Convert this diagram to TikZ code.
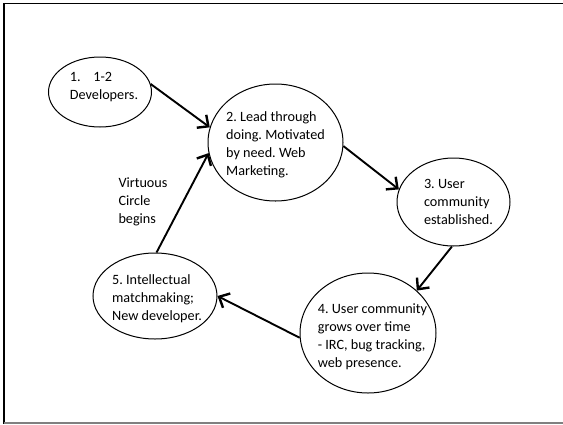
\documentclass[tikz,border=0pt]{standalone}
\usepackage{fontspec}
\setmainfont{Carlito}
\frenchspacing
\usetikzlibrary{shapes.geometric,arrows.meta}
\begin{document}
\begin{tikzpicture}[x=1pt,y=-1pt,
  bubble/.style={draw=black,line width=1pt,ellipse,inner sep=0pt},
  txt/.style={align=left,inner sep=0pt,font=\fontsize{14.2}{18}\selectfont},
  flow/.style={line width=1.9pt,-{Straight Barb[length=8.5pt,width=16pt,line width=2.4pt]}}]
\useasboundingbox (0,0) rectangle (563,424);
\fill[white] (0,0) rectangle (563,424);
% frame
\draw[line width=1.3pt] (3,3.6) -- (563,3.6);
\draw[line width=2.2pt] (4,3) -- (4,424);
\draw[line width=1.6pt,gray] (4,423.2) -- (563,423.2);
% stages
\node[bubble,minimum width=103pt,minimum height=70pt] (e1) at (100,92) {};
\node[bubble,minimum width=135pt,minimum height=117pt] (e2) at (275.5,142.5) {};
\node[bubble,minimum width=113pt,minimum height=88pt] (e3) at (453.5,202) {};
\node[bubble,minimum width=136pt,minimum height=120pt] (e4) at (368,333) {};
\node[bubble,minimum width=124pt,minimum height=86pt] (e5) at (155,296) {};
% captions
\node[txt] (t1) at (104,87) {1.\hspace{0.9em}1-2\\Developers.};
\node[txt] (t2) at (275.5,145) {2. Lead through\\doing. Motivated\\by need. Web\\Marketing.};
\node[txt] (t3) at (458.5,201.5) {3. User\\community\\established.};
\node[txt] (t4) at (372.5,336.5) {4. User community\\grows over time\\- IRC, bug tracking,\\web presence.};
\node[txt] (t5) at (157,298.5) {5. Intellectual\\matchmaking;\\New developer.};
\node[txt] (vc) at (143,201.5) {Virtuous\\Circle\\begins};
% cycle
\draw[flow] (e1.9) -- (e2.167.5);
\draw[flow] (e2.-3.8) -- (e3.167.7);
\draw[flow] (e3.-92) -- (e4.41);
\draw[flow] (e4.-176.2) -- (e5.0);
\draw[flow] (e5.88.7) -- (e2.-171.3);
\end{tikzpicture}
\end{document}
